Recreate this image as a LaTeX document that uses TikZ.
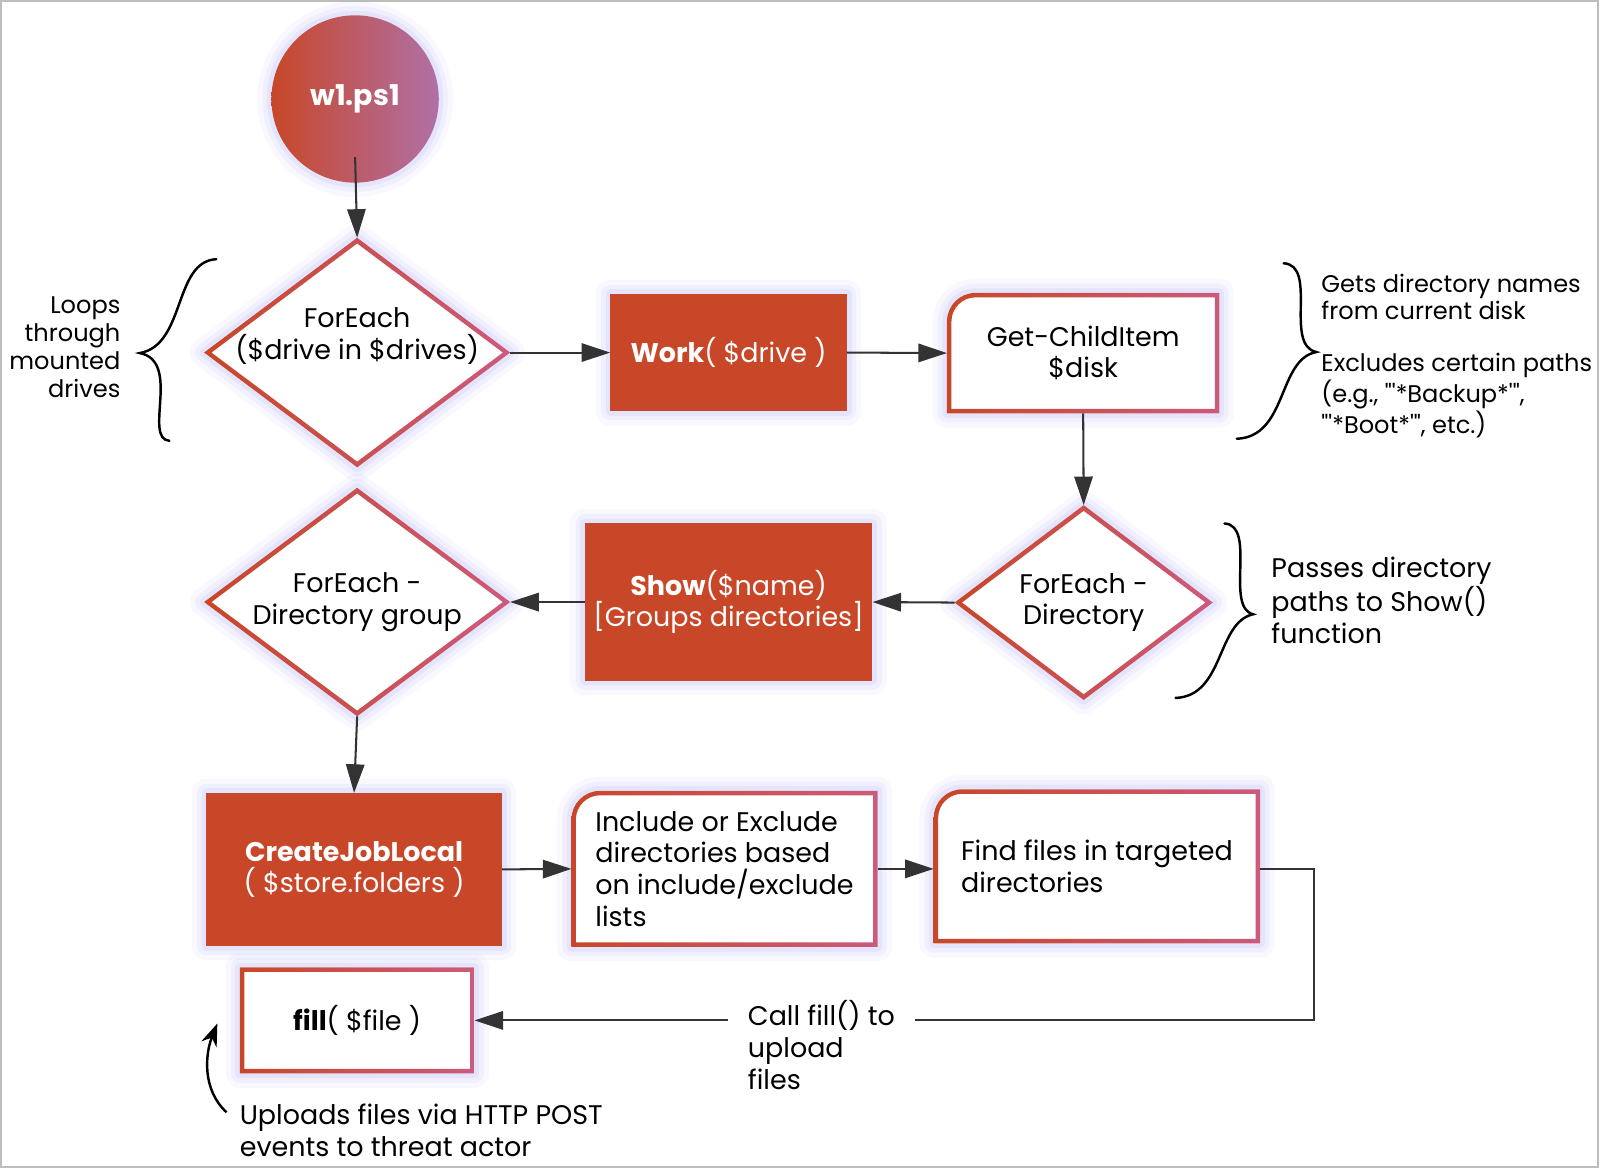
\documentclass[tikz,border=0pt]{standalone}
\usepackage{fontspec}
\setmainfont{Poppins}
\usetikzlibrary{shapes.geometric, arrows.meta, backgrounds}

\definecolor{rust}{HTML}{C84728}
\definecolor{rose}{HTML}{CC5A7C}
\definecolor{plum}{HTML}{B070A6}
\definecolor{halo}{HTML}{7B7BF2}
\definecolor{ink}{HTML}{333333}
\definecolor{framegray}{HTML}{BDBDBD}

\tikzset{
  halo/.style={
    preaction={draw=halo, line width=14pt, opacity=.05, line join=round},
    preaction={draw=halo, line width=9pt, opacity=.07, line join=round},
    preaction={draw=halo, line width=4.5pt, opacity=.10, line join=round}},
  flow/.style={draw=ink, line width=1pt, -{Triangle[length=14pt,width=9pt]}},
  brace/.style={draw=black, line width=1.2pt, line cap=round},
}

% gradient border with a rounded top left corner, drawn behind a node
\newcommand{\tabring}[1]{%
  \begin{scope}[on background layer]
    \path[halo, fill=white] (#1.south west) -- ([yshift=-14pt]#1.north west)
      arc[start angle=180, end angle=90, radius=14pt] -- (#1.north east) -- (#1.south east) -- cycle;
    \shade[even odd rule, left color=rust, right color=rose]
      (#1.south west) -- ([yshift=-14pt]#1.north west)
      arc[start angle=180, end angle=90, radius=14pt] -- (#1.north east) -- (#1.south east) -- cycle
      ([shift={(2.2pt,2.2pt)}]#1.south west) -- ([shift={(2.2pt,-14pt)}]#1.north west)
      arc[start angle=180, end angle=90, radius=11.8pt] -- ([shift={(-2.2pt,-2.2pt)}]#1.north east)
      -- ([shift={(-2.2pt,2.2pt)}]#1.south east) -- cycle;
  \end{scope}}

% gradient border, square corners
\newcommand{\boxring}[1]{%
  \begin{scope}[on background layer]
    \path[halo, fill=white] (#1.south west) rectangle (#1.north east);
    \shade[even odd rule, left color=rust, right color=rose]
      (#1.south west) rectangle (#1.north east)
      ([shift={(2.2pt,2.2pt)}]#1.south west) rectangle ([shift={(-2.2pt,-2.2pt)}]#1.north east);
  \end{scope}}

% gradient border of a decision
\newcommand{\diamondring}[1]{%
  \begin{scope}[on background layer]
    \path[halo, fill=white] (#1.north) -- (#1.east) -- (#1.south) -- (#1.west) -- cycle;
    \shade[even odd rule, left color=rust, right color=rose]
      (#1.north) -- (#1.east) -- (#1.south) -- (#1.west) -- cycle
      ([yshift=-2.8pt]#1.north) -- ([xshift=-3.6pt]#1.east) -- ([yshift=2.8pt]#1.south) -- ([xshift=3.6pt]#1.west) -- cycle;
  \end{scope}}

\begin{document}
\begin{tikzpicture}[x=0.5pt, y=0.5pt,
  every node/.style={font=\fontsize{13.2}{15.5}\selectfont, align=center, inner sep=0pt, outer sep=0pt},
  startnode/.style={circle, minimum size=82pt, left color=rust, right color=plum, text=white, halo,
    font=\fontsize{14}{16}\selectfont},
  solidbox/.style={rectangle, fill=rust, text=white, halo},
  outlinebox/.style={rectangle},
  decision/.style={diamond, aspect=1.33},
  note/.style={font=\fontsize{11.8}{13.7}\selectfont}]

  \useasboundingbox (0,0) rectangle (1568,-1146);
  \draw[framegray, line width=1pt] (1,-1) rectangle (1566,-1144);

  % Nodes
  \node (script) [startnode] at (348,-97) {\textbf{w1.ps1}};
  \node (drives) [decision, minimum width=150pt, minimum height=112.5pt] at (350,-345.5) {};
  \node (driveslabel) at ([yshift=8pt]drives.center) {ForEach\\(\$drive in \$drives)};
  \node (work) [solidbox, minimum width=116pt, minimum height=57.5pt] at (714,-345.5) {\textbf{Work}( \$drive )};
  \node (childitem) [outlinebox, minimum width=133.5pt, minimum height=59pt] at (1061.5,-346) {Get-ChildItem\\\$disk};

  % Second row
  \node (dirloop) [decision, minimum width=126.5pt, minimum height=95.5pt] at (1062,-590.5) {ForEach -\\Directory};
  \node (show) [solidbox, minimum width=141pt, minimum height=77pt] at (714,-590) {\textbf{Show}(\$name)\\{[}Groups directories{]}};
  \node (grouploop) [decision, minimum width=150pt, minimum height=112pt] at (350,-590) {ForEach -\\Directory group};

  % Third row
  \node (createjob) [solidbox, minimum width=145pt, minimum height=75pt] at (347,-852) {\textbf{CreateJobLocal}\\( \$store.folders )};
  \node (filter) [outlinebox, align=left, minimum width=150pt, minimum height=76.5pt] at (710,-851.5) {Include or Exclude\\directories based\\on include/exclude\\lists};
  \node (findfiles) [outlinebox, align=left, minimum width=160pt, minimum height=75.5pt] at (1075,-849) {Find files in targeted\\directories};
  \node (upload) [outlinebox, minimum width=115pt, minimum height=52pt] at (350,-1000) {\textbf{fill}( \$file )};

  \tabring{childitem}
  \tabring{filter}
  \tabring{findfiles}
  \boxring{upload}
  \diamondring{drives}
  \diamondring{dirloop}
  \diamondring{grouploop}

  % Notes
  \node (loopsnote) [note, align=right, anchor=east] at (118,-340) {Loops\\through\\mounted\\drives};
  \node (getsnote) [note, align=left, anchor=west] at (1295,-291) {Gets directory names\\from current disk};
  \node (excludenote) [note, align=left, anchor=west] at (1295,-388) {Excludes certain paths\\(e.g., \textquotedbl\textquotesingle*Backup*\textquotesingle\textquotedbl,\\\textquotedbl\textquotesingle*Boot*\textquotesingle\textquotedbl, etc.)};
  \node (passnote) [align=left, anchor=west] at (1246,-588) {Passes directory\\paths to Show()\\function};
  \node (callnote) [align=left, anchor=west, inner xsep=10pt] at (713,-1024) {Call fill() to\\upload\\files};
  \node (uploadnote) [align=left, anchor=west] at (235,-1108) {Uploads files via HTTP POST\\events to threat actor};

  % Arrows
  \draw[flow] ([yshift=12.5pt]script.south) -- (drives.north);
  \draw[flow] (drives.east) -- (work.west);
  \draw[flow] (work.east) -- (childitem.west);
  \draw[flow] (childitem.south) -- (dirloop.north);
  \draw[flow] (dirloop.west) -- (show.east);
  \draw[flow] (show.west) -- (grouploop.east);
  \draw[flow] (grouploop.south) -- (createjob.north);
  \draw[flow] (createjob.east) -- (filter.west);
  \draw[flow] (filter.east) -- (filter.east -| findfiles.west);

  \coordinate (bend) at (1288,-1000);
  \draw[ink, line width=1pt] (filter.east -| findfiles.east) -| (bend) -- (bend -| callnote.east);
  \draw[flow] (callnote.west |- bend) -- (upload.east);
  \draw[draw=black, line width=1.2pt, -{Stealth[length=11pt,width=8pt]}]
    ([shift={(-13,18)}]uploadnote.west) .. controls +(-24,22) and +(-12,-30) .. ([shift={(-22,49)}]upload.south west);

  % Braces
  \draw[brace] (212,-254) .. controls (170,-256) and (182,-338) .. (137,-346)
    .. controls (178,-354) and (140,-430) .. (166,-432);
  \draw[brace] (1258,-258) .. controls (1292,-260) and (1258,-338) .. (1290,-345)
    .. controls (1252,-352) and (1262,-428) .. (1212,-430);
  \draw[brace] (1200,-513) .. controls (1232,-515) and (1200,-595) .. (1228,-602)
    .. controls (1192,-610) and (1200,-682) .. (1152,-684);

\end{tikzpicture}
\end{document}
